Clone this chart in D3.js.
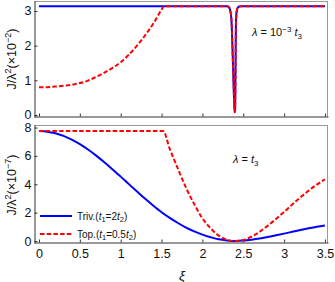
<!DOCTYPE html>
<html><head><meta charset="utf-8">
<script src="https://cdn.jsdelivr.net/npm/d3@7"></script>
<style>
html,body{margin:0;padding:0;background:#fff;}
svg{display:block;font-family:"Liberation Sans",Arial,sans-serif;}
</style></head>
<body>
<svg id="c" width="335" height="282"></svg>
<script>
// ---- data ----
const xTicks = [0, 0.5, 1, 1.5, 2, 2.5, 3, 3.5];
const xTickLabels = ["0", "0.5", "1", "1.5", "2", "2.5", "3", "3.5"];
const yTicksTop = [0, 1, 2, 3];
const yTicksBottom = [0, 2, 4, 6, 8];

// top panel (lambda = 1e-3 t3), units of 1e-2
const xiTopTriv = [0, 2.30, 2.32, 2.34, 2.355, 2.375, 2.39, 2.395, 2.40, 2.405, 2.41, 2.42, 2.44, 2.47, 3.5];
const jTopTriv  = [3.14, 3.14, 3.12, 3.02, 2.75, 1.4, 0.3, 0.08, 0.15, 1.2, 2.6, 3.0, 3.12, 3.14, 3.14];
const xiTopTop = [0, 0.1, 0.2, 0.3, 0.4, 0.5, 0.6, 0.7, 0.8, 0.9, 1.0, 1.1, 1.2, 1.3, 1.4, 1.5, 1.53,
                  2.30, 2.32, 2.34, 2.355, 2.375, 2.39, 2.395, 2.40, 2.405, 2.41, 2.42, 2.44, 2.47, 3.5];
const jTopTop  = [0.80, 0.80, 0.82, 0.84, 0.87, 0.92, 0.99, 1.10, 1.22, 1.36, 1.52, 1.74, 2.00, 2.30, 2.64, 3.04, 3.14,
                  3.14, 3.12, 3.02, 2.75, 1.4, 0.3, 0.08, 0.15, 1.2, 2.6, 3.0, 3.12, 3.14, 3.14];

// bottom panel (lambda = t3), units of 1e-7
const xiBotTriv = [0, 0.1, 0.2, 0.3, 0.4, 0.5, 0.6, 0.7, 0.8, 0.9, 1.0, 1.1, 1.2, 1.3, 1.4, 1.5, 1.6, 1.7,
                   1.8, 1.9, 2.0, 2.1, 2.2, 2.3, 2.4, 2.5, 2.6, 2.7, 2.8, 2.9, 3.0, 3.1, 3.2, 3.3, 3.4, 3.5];
const jBotTriv  = [7.75, 7.71, 7.60, 7.41, 7.15, 6.83, 6.45, 6.02, 5.55, 5.05, 4.54, 4.01, 3.49, 2.98, 2.49, 2.03, 1.63, 1.27,
                   0.95, 0.68, 0.45, 0.27, 0.12, 0.04, 0.0, 0.03, 0.09, 0.17, 0.28, 0.40, 0.52, 0.65, 0.78, 0.90, 1.01, 1.10];
const xiBotTop = [0, 1.52, 1.6, 1.7, 1.8, 1.9, 2.0, 2.1, 2.2, 2.3, 2.4, 2.5, 2.6, 2.7, 2.8, 2.9, 3.0, 3.1, 3.2, 3.3, 3.4, 3.5];
const jBotTop  = [7.75, 7.75, 6.5, 5.1, 3.75, 2.6, 1.6, 0.9, 0.38, 0.09, 0.0, 0.08, 0.3, 0.65, 1.08, 1.55, 2.05, 2.58, 3.08, 3.55, 3.98, 4.35];

const legendLabels = ["Triv.", "Top."];

// ---- drawing ----
const svg = d3.select("#c");
const BLUE = "#0000ff", RED = "#ff0000";
const left = 34, right = 328;
const x = d3.scaleLinear().domain([-0.061, 3.537]).range([left, right]);

function panel(top, bottom, ydom, yticks, opts) {
  const y = d3.scaleLinear().domain(ydom).range([bottom, top]);
  const g = svg.append("g");
  g.append("line").attr("x1", left).attr("x2", right).attr("y1", top + 0.5).attr("y2", top + 0.5).attr("stroke", "#999");
  g.append("line").attr("x1", right - 0.5).attr("x2", right - 0.5).attr("y1", top).attr("y2", bottom).attr("stroke", "#999");
  const ax = g.append("g").attr("transform", `translate(0,${bottom - 0.5})`)
    .call(d3.axisBottom(x).tickValues(xTicks).tickSizeInner(-3).tickSizeOuter(0)
      .tickFormat((d, i) => opts.xlabels ? xTickLabels[i] : ""));
  ax.select(".domain").attr("stroke", "#333");
  ax.selectAll(".tick line").attr("stroke", "#333");
  ax.selectAll(".tick text").attr("font-size", 12.5).attr("fill", "#111").attr("dy", "1.0em");
  const ay = g.append("g").attr("transform", `translate(${left + 0.5},0)`)
    .call(d3.axisLeft(y).tickValues(yticks).tickSizeInner(-3).tickSizeOuter(0).tickFormat(d3.format("d")));
  ay.select(".domain").attr("stroke", "#333");
  ay.selectAll(".tick line").attr("stroke", "#333");
  ay.selectAll(".tick text").attr("font-size", 12.5).attr("fill", "#111").attr("x", -3);
  return {g, y};
}

function drawLines(p, xsT, ysT, xsR, ysR) {
  const line = d3.line().x(d => x(d[0])).y(d => p.y(d[1])).curve(d3.curveMonotoneX);
  p.g.append("path").datum(d3.zip(xsT, ysT)).attr("d", line)
    .attr("fill", "none").attr("stroke", BLUE).attr("stroke-width", 2);
  p.g.append("path").datum(d3.zip(xsR, ysR)).attr("d", line)
    .attr("fill", "none").attr("stroke", RED).attr("stroke-width", 2)
    .attr("stroke-dasharray", "4.5,2.2");
}

const pt = panel(1, 117, [-0.058, 3.288], yTicksTop, {xlabels: false});
drawLines(pt, xiTopTriv, jTopTriv, xiTopTop, jTopTop);
const pb = panel(125, 243, [-0.141, 8.18], yTicksBottom, {xlabels: true});
drawLines(pb, xiBotTriv, jBotTriv, xiBotTop, jBotTop);

function ylabel(cy, exp) {
  const t = svg.append("text").attr("transform", `translate(16,${cy}) rotate(-90)`)
    .attr("text-anchor", "middle").attr("font-size", 12.5).attr("fill", "#111");
  t.append("tspan").text("J/λ");
  t.append("tspan").attr("font-size", 9).attr("dy", -5).text("2");
  t.append("tspan").attr("dy", 5).text("(×10");
  t.append("tspan").attr("font-size", 9).attr("dy", -5).text(exp);
  t.append("tspan").attr("dy", 5).text(")");
}
ylabel(59, "−2");
ylabel(185, "−7");

svg.append("text").attr("x", 182).attr("y", 280).attr("text-anchor", "middle")
  .attr("font-size", 13.5).attr("font-style", "italic").attr("fill", "#111").text("ξ");

const a1 = svg.append("text").attr("x", 252).attr("y", 36).attr("font-size", 11).attr("fill", "#111");
a1.append("tspan").attr("font-style", "italic").text("λ");
a1.append("tspan").text(" = 10");
a1.append("tspan").attr("font-size", 8).attr("dy", -4).text("−3");
a1.append("tspan").attr("dy", 4).text(" ");
a1.append("tspan").attr("font-style", "italic").text("t");
a1.append("tspan").attr("font-size", 8).attr("dy", 3).text("3");

const a2 = svg.append("text").attr("x", 233).attr("y", 163).attr("font-size", 11).attr("fill", "#111");
a2.append("tspan").attr("font-style", "italic").text("λ");
a2.append("tspan").text(" = ");
a2.append("tspan").attr("font-style", "italic").text("t");
a2.append("tspan").attr("font-size", 8).attr("dy", 3).text("3");

function legendRow(yy, color, dash, name, coef) {
  svg.append("line").attr("x1", 40).attr("x2", 72).attr("y1", yy).attr("y2", yy)
    .attr("stroke", color).attr("stroke-width", 2).attr("stroke-dasharray", dash);
  const t = svg.append("text").attr("x", 77).attr("y", yy + 3.5).attr("font-size", 10).attr("fill", "#111");
  t.append("tspan").text(name + "(");
  t.append("tspan").attr("font-style", "italic").text("t");
  t.append("tspan").attr("font-size", 7.5).attr("dy", 2.5).text("1");
  t.append("tspan").attr("dy", -2.5).text("=" + coef);
  t.append("tspan").attr("font-style", "italic").text("t");
  t.append("tspan").attr("font-size", 7.5).attr("dy", 2.5).text("2");
  t.append("tspan").attr("dy", -2.5).text(")");
}
legendRow(216, BLUE, null, legendLabels[0], "2");
legendRow(234, RED, "4.5,2.2", legendLabels[1], "0.5");
</script>
</body></html>
